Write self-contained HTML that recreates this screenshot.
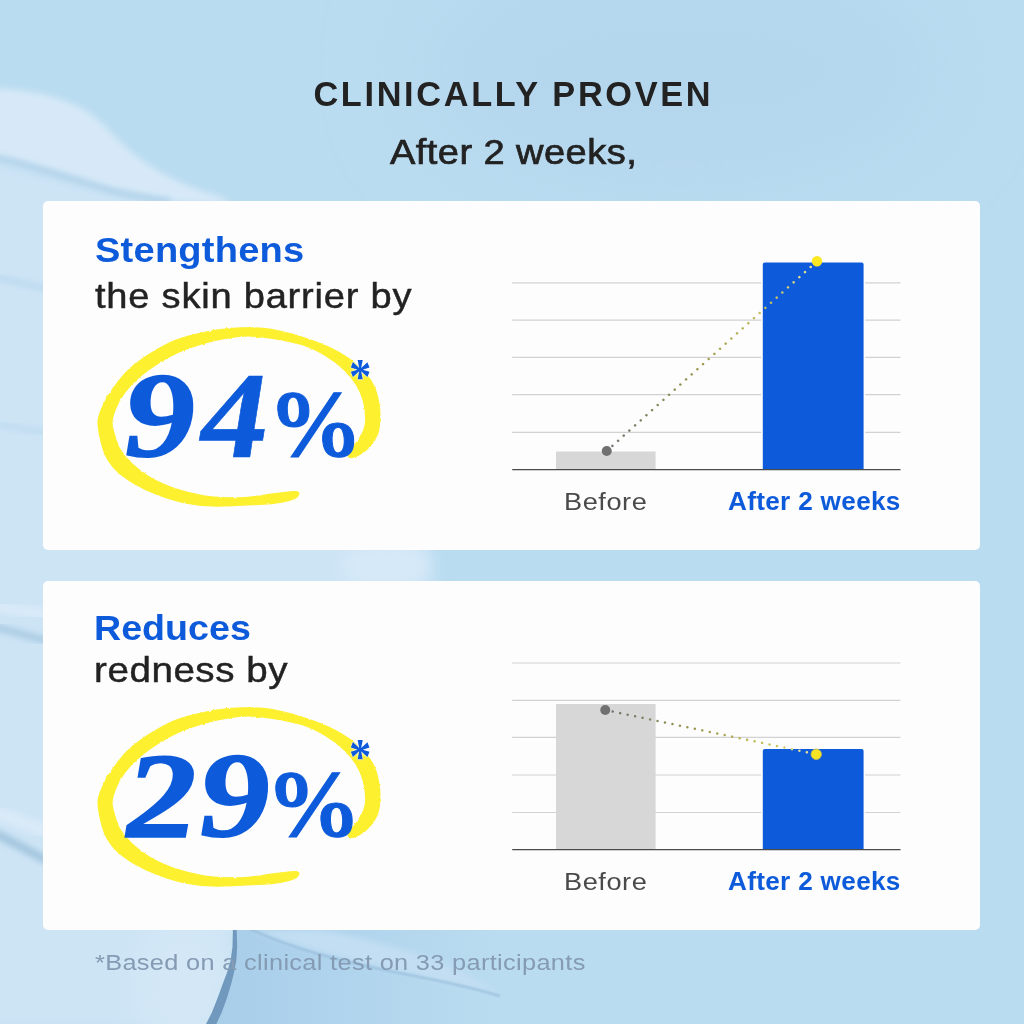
<!DOCTYPE html>
<html lang="en">
<head>
<meta charset="utf-8">
<title>Clinically Proven</title>
<style>
html,body{margin:0;padding:0;}
body{width:1024px;height:1024px;overflow:hidden;position:relative;background:#badcf0;font-family:"Liberation Sans",sans-serif;color:#222;}
.t{position:absolute;display:block;margin:0;white-space:nowrap;line-height:1;transform-origin:0 0;font-weight:normal;}
.g{position:absolute;left:0;top:0;width:0;height:0;}
.card{position:absolute;left:42.8px;width:937.3px;background:#fdfdfd;border-radius:5px;}
#card1{top:200.6px;height:349.2px;}
#card2{top:580.5px;height:349.5px;}
.blue{color:#0d5bdb;}
.t.b{font-weight:bold;}
.t.num{font-family:"Liberation Serif",serif;font-weight:bold;font-style:italic;color:#0d5bdb;}
svg{position:absolute;left:0;top:0;overflow:visible;}
</style>
</head>
<body>
<svg id="bg" width="1024" height="1024" viewBox="0 0 1024 1024">
  <defs>
    <filter id="b05" x="-20%" y="-20%" width="140%" height="140%"><feGaussianBlur stdDeviation="0.5"/></filter>
    <filter id="b1" x="-20%" y="-20%" width="140%" height="140%"><feGaussianBlur stdDeviation="1.2"/></filter>
    <filter id="b3" x="-20%" y="-20%" width="140%" height="140%"><feGaussianBlur stdDeviation="3"/></filter>
    <filter id="b8" x="-20%" y="-20%" width="140%" height="140%"><feGaussianBlur stdDeviation="8"/></filter>
    <filter id="b40" x="-50%" y="-80%" width="200%" height="260%"><feGaussianBlur stdDeviation="45"/></filter>
    <filter id="b16" x="-30%" y="-30%" width="160%" height="160%"><feGaussianBlur stdDeviation="16"/></filter>
    <linearGradient id="pool" gradientUnits="userSpaceOnUse" x1="225" y1="0" x2="500" y2="0"><stop offset="0" stop-color="#a9ceea"/><stop offset="0.5" stop-color="#b1d5ed"/><stop offset="1" stop-color="#badcf0"/></linearGradient>
    <linearGradient id="tg" gradientUnits="userSpaceOnUse" x1="60" y1="95" x2="20" y2="175"><stop offset="0" stop-color="#d5e8f7"/><stop offset="0.45" stop-color="#dcecf9"/><stop offset="1" stop-color="#cfe4f5"/></linearGradient>
    <clipPath id="cv"><rect width="1024" height="1024"/></clipPath>
    <clipPath id="cl"><path d="M-40 900 L233 900 L232.9 930.8 L232.5 946.8 L230.6 960.8 L226.9 973 L222.6 984.3 L217.5 998.3 L211.9 1012.4 L203 1030 L-40 1030Z"/></clipPath>
  </defs>
  <rect width="1024" height="1024" fill="#badcf0"/>
  <g clip-path="url(#cv)">
    <ellipse cx="680" cy="70" rx="260" ry="120" fill="#b5d7ee" filter="url(#b40)"/>
    <!-- large pale region on the left (mostly hidden behind the cards) -->
    <path d="M-40 150 C40 170 110 190 180 200 C300 260 410 420 430 560 C440 700 330 860 234 928 L233 947 L229 967 L222.6 984.3 L211.9 1012.4 L203 1030 L-40 1030Z" fill="#cde4f5" filter="url(#b8)"/>
    <ellipse cx="385" cy="566" rx="45" ry="22" fill="#d6e9f8" filter="url(#b8)"/>
    <!-- darker pool right of the fold at the bottom -->
    <path d="M234 925 L520 925 L520 1030 L208 1030 L217 1012 L227 984 L234 950Z" fill="url(#pool)"/>
    <!-- brighter bulge left of the fold -->
    <g clip-path="url(#cl)"><ellipse cx="185" cy="985" rx="55" ry="70" fill="#d3e7f6" filter="url(#b16)"/></g>
    <!-- pale wedge above the thin crease -->
    <path d="M252 930 C300 950 380 968 500 994 C450 960 380 940 320 930Z" fill="#c3def3" filter="url(#b3)"/>
    <!-- cream tongue top-left -->
    <path d="M-10 158 C30 164 75 180 113 191 C150 200 190 203 230 204 L222 197 C195 190 172 180 150 166 C125 150 110 130 92 115 C70 100 40 90 -10 88Z" fill="#d7e9f8" filter="url(#b3)"/>
    <path d="M-10 156 C30 164 75 180 113 191 C135 196 150 199 170 201" fill="none" stroke="#a9cde6" stroke-width="5" filter="url(#b3)"/>
    <!-- soft bands in the left margin -->
    <path d="M-5 277 L48 289" stroke="#b9d7ed" stroke-width="5" fill="none" filter="url(#b3)"/>
    <path d="M-5 424 L48 433" stroke="#bddaef" stroke-width="5" fill="none" filter="url(#b3)"/>
    <path d="M-5 606 L48 615" stroke="#d9eaf8" stroke-width="12" fill="none" filter="url(#b3)"/>
    <path d="M-5 627 L48 641" stroke="#a9cbe2" stroke-width="7" fill="none" filter="url(#b3)"/>
    <path d="M-5 812 L48 832" stroke="#d9eaf8" stroke-width="14" fill="none" filter="url(#b3)"/>
    <path d="M-5 833 L48 861" stroke="#9fc3dc" stroke-width="8" fill="none" filter="url(#b3)"/>
    <!-- fold edge at bottom -->
    <path d="M232.9 927 L232.9 930.8 L232.5 946.8 L230.6 960.8 L226.9 973 L222.6 984.3 L217.5 998.3 L211.9 1012.4 L203 1030 L213.5 1030 L221.7 1012.4 L226.9 998.3 L231.1 984.3 L233.9 973 L236.3 960.8 L237.2 946.8 L236.7 930.8 L236.7 927Z" fill="#7199bd" filter="url(#b05)"/>
    <!-- thin crease -->
    <path d="M250 929 C290 948 340 962 420 977 C450 983 480 990 500 996" fill="none" stroke="#8fb6d6" stroke-width="1.5" filter="url(#b1)"/>
  </g>
</svg>

<div class="card" id="card1"></div>
<div class="card" id="card2"></div>
<svg id="rings" width="1024" height="1024" viewBox="0 0 1024 1024">
  <defs><filter id="rough" x="-5%" y="-5%" width="110%" height="110%"><feTurbulence type="fractalNoise" baseFrequency="0.35" numOctaves="2" seed="7" result="n"/><feDisplacementMap in="SourceGraphic" in2="n" scale="2.2" xChannelSelector="R" yChannelSelector="G"/></filter></defs>
  <path id="ring1" d="M349.4 457.5C351.0 458.1 355.4 456.8 358.8 455.0C362.1 453.2 366.6 450.0 369.7 446.5C372.8 443.0 375.8 438.4 377.5 434.0C379.2 429.6 379.6 424.9 379.8 420.0C380.1 415.1 379.9 409.9 379.0 404.4C378.1 398.9 376.7 392.4 374.4 387.2C372.1 382.0 369.2 377.7 365.0 373.0C360.8 368.3 355.6 363.4 349.4 359.0C343.1 354.6 335.3 350.2 327.5 346.6C319.7 343.0 311.9 340.1 302.5 337.2C293.1 334.3 280.3 331.0 271.2 329.4C262.2 327.8 255.1 327.9 248.0 327.8C240.9 327.7 236.0 327.8 228.6 328.6C221.2 329.4 212.4 330.6 203.6 332.5C194.8 334.4 184.3 336.8 175.5 340.3C166.7 343.8 158.3 348.7 150.5 353.6C142.7 358.6 134.8 364.1 128.6 370.0C122.3 375.9 117.2 383.0 113.0 388.8C108.8 394.5 106.1 399.2 103.6 404.4C101.1 409.6 98.8 414.8 98.2 420.0C97.6 425.2 98.5 429.9 99.7 435.6C100.9 441.3 102.5 448.7 105.2 454.4C107.9 460.1 111.0 465.1 116.0 470.0C121.0 474.9 127.9 479.8 134.9 484.0C142.0 488.2 150.0 491.9 158.3 495.0C166.6 498.1 175.8 501.0 184.9 502.8C194.0 504.6 203.8 505.6 213.0 506.0C222.2 506.4 230.3 505.6 240.0 505.2C249.7 504.8 262.4 504.5 271.0 503.6C279.6 502.7 286.9 501.2 291.5 499.7C296.1 498.2 298.1 495.9 298.6 494.5C299.1 493.1 299.3 491.6 294.7 491.5C290.1 491.4 278.8 493.2 271.0 494.2C263.2 495.2 255.1 496.7 248.0 497.3C240.9 497.9 236.0 498.1 228.6 497.8C221.2 497.6 212.4 497.3 203.6 495.8C194.8 494.3 184.3 491.8 175.5 488.8C166.7 485.8 157.8 482.0 150.5 477.8C143.2 473.6 137.0 468.7 131.8 463.8C126.5 458.8 122.2 453.2 119.2 448.0C116.3 442.8 115.0 437.2 113.8 432.5C112.6 427.8 111.3 425.2 112.2 420.0C113.1 414.8 116.0 407.2 119.2 401.2C122.5 395.2 126.5 389.5 131.8 384.0C137.0 378.5 143.2 373.5 150.5 368.4C157.8 363.3 166.7 357.8 175.5 353.6C184.3 349.4 194.8 346.0 203.6 343.4C212.4 340.8 221.2 339.2 228.6 338.0C236.0 336.8 240.9 336.0 248.0 336.0C255.1 336.0 262.2 336.7 271.2 338.2C280.3 339.7 293.5 341.9 302.5 344.8C311.5 347.7 318.4 351.4 325.4 355.6C332.3 359.8 339.0 364.9 344.2 369.8C349.4 374.7 353.2 379.6 356.4 384.8C359.6 390.0 361.8 395.4 363.4 401.2C365.0 407.1 365.8 415.0 365.8 420.0C365.8 425.0 364.8 427.4 363.4 431.0C362.0 434.6 359.5 438.5 357.2 441.9C354.9 445.3 350.7 448.6 349.4 451.2C348.1 453.9 347.8 456.9 349.4 457.5" fill="#fdf02e" stroke="#fdf02e" stroke-width="1.2" stroke-linejoin="round" filter="url(#rough)"/>
  <g transform="translate(0 380)"><path id="ring2" d="M349.4 457.5C351.0 458.1 355.4 456.8 358.8 455.0C362.1 453.2 366.6 450.0 369.7 446.5C372.8 443.0 375.8 438.4 377.5 434.0C379.2 429.6 379.6 424.9 379.8 420.0C380.1 415.1 379.9 409.9 379.0 404.4C378.1 398.9 376.7 392.4 374.4 387.2C372.1 382.0 369.2 377.7 365.0 373.0C360.8 368.3 355.6 363.4 349.4 359.0C343.1 354.6 335.3 350.2 327.5 346.6C319.7 343.0 311.9 340.1 302.5 337.2C293.1 334.3 280.3 331.0 271.2 329.4C262.2 327.8 255.1 327.9 248.0 327.8C240.9 327.7 236.0 327.8 228.6 328.6C221.2 329.4 212.4 330.6 203.6 332.5C194.8 334.4 184.3 336.8 175.5 340.3C166.7 343.8 158.3 348.7 150.5 353.6C142.7 358.6 134.8 364.1 128.6 370.0C122.3 375.9 117.2 383.0 113.0 388.8C108.8 394.5 106.1 399.2 103.6 404.4C101.1 409.6 98.8 414.8 98.2 420.0C97.6 425.2 98.5 429.9 99.7 435.6C100.9 441.3 102.5 448.7 105.2 454.4C107.9 460.1 111.0 465.1 116.0 470.0C121.0 474.9 127.9 479.8 134.9 484.0C142.0 488.2 150.0 491.9 158.3 495.0C166.6 498.1 175.8 501.0 184.9 502.8C194.0 504.6 203.8 505.6 213.0 506.0C222.2 506.4 230.3 505.6 240.0 505.2C249.7 504.8 262.4 504.5 271.0 503.6C279.6 502.7 286.9 501.2 291.5 499.7C296.1 498.2 298.1 495.9 298.6 494.5C299.1 493.1 299.3 491.6 294.7 491.5C290.1 491.4 278.8 493.2 271.0 494.2C263.2 495.2 255.1 496.7 248.0 497.3C240.9 497.9 236.0 498.1 228.6 497.8C221.2 497.6 212.4 497.3 203.6 495.8C194.8 494.3 184.3 491.8 175.5 488.8C166.7 485.8 157.8 482.0 150.5 477.8C143.2 473.6 137.0 468.7 131.8 463.8C126.5 458.8 122.2 453.2 119.2 448.0C116.3 442.8 115.0 437.2 113.8 432.5C112.6 427.8 111.3 425.2 112.2 420.0C113.1 414.8 116.0 407.2 119.2 401.2C122.5 395.2 126.5 389.5 131.8 384.0C137.0 378.5 143.2 373.5 150.5 368.4C157.8 363.3 166.7 357.8 175.5 353.6C184.3 349.4 194.8 346.0 203.6 343.4C212.4 340.8 221.2 339.2 228.6 338.0C236.0 336.8 240.9 336.0 248.0 336.0C255.1 336.0 262.2 336.7 271.2 338.2C280.3 339.7 293.5 341.9 302.5 344.8C311.5 347.7 318.4 351.4 325.4 355.6C332.3 359.8 339.0 364.9 344.2 369.8C349.4 374.7 353.2 379.6 356.4 384.8C359.6 390.0 361.8 395.4 363.4 401.2C365.0 407.1 365.8 415.0 365.8 420.0C365.8 425.0 364.8 427.4 363.4 431.0C362.0 434.6 359.5 438.5 357.2 441.9C354.9 445.3 350.7 448.6 349.4 451.2C348.1 453.9 347.8 456.9 349.4 457.5" fill="#fdf02e" stroke="#fdf02e" stroke-width="1.2" stroke-linejoin="round" filter="url(#rough)"/></g>
</svg>
<svg id="charts" width="1024" height="1024" viewBox="0 0 1024 1024">
  <defs>
    <linearGradient id="dg1" gradientUnits="userSpaceOnUse" x1="606.75" y1="451" x2="817" y2="261.25">
      <stop offset="0" stop-color="#707070"/><stop offset="0.45" stop-color="#9c9b4c"/><stop offset="0.8" stop-color="#c9c45a"/><stop offset="1" stop-color="#f3ecb0"/>
    </linearGradient>
    <linearGradient id="dg2" gradientUnits="userSpaceOnUse" x1="605.25" y1="710" x2="816.25" y2="754.25">
      <stop offset="0" stop-color="#707070"/><stop offset="0.45" stop-color="#9c9b4c"/><stop offset="0.8" stop-color="#c9c45a"/><stop offset="1" stop-color="#f3ecb0"/>
    </linearGradient>
  </defs>
  <g stroke="#d2d2d2" stroke-width="1.2">
    <line x1="512.2" x2="900.5" y1="282.8" y2="282.8"/>
    <line x1="512.2" x2="900.5" y1="320.2" y2="320.2"/>
    <line x1="512.2" x2="900.5" y1="357.3" y2="357.3"/>
    <line x1="512.2" x2="900.5" y1="394.7" y2="394.7"/>
    <line x1="512.2" x2="900.5" y1="432.3" y2="432.3"/>
    <line x1="512.2" x2="900.5" y1="663" y2="663"/>
    <line x1="512.2" x2="900.5" y1="700.3" y2="700.3"/>
    <line x1="512.2" x2="900.5" y1="737.3" y2="737.3"/>
    <line x1="512.2" x2="900.5" y1="775" y2="775"/>
    <line x1="512.2" x2="900.5" y1="812.5" y2="812.5"/>
  </g>
  <rect x="556" y="451.5" width="99.6" height="18.5" fill="#d7d7d7"/>
  <rect x="761.2" y="261" width="104" height="208" fill="#fdfdfd"/>
  <rect x="761.2" y="747.5" width="104" height="101.5" fill="#fdfdfd"/>
  <path d="M762.8 470V264.5a2 2 0 0 1 2-2h96.8a2 2 0 0 1 2 2V470z" fill="#0d5bdb"/>
  <rect x="556" y="704" width="99.6" height="146" fill="#d7d7d7"/>
  <path d="M762.8 850V751a2 2 0 0 1 2-2h96.8a2 2 0 0 1 2 2V850z" fill="#0d5bdb"/>
  <line x1="512.2" x2="900.5" y1="469.6" y2="469.6" stroke="#4a4a4a" stroke-width="1.4"/>
  <line x1="512.2" x2="900.5" y1="849.6" y2="849.6" stroke="#4a4a4a" stroke-width="1.4"/>
  <line x1="606.75" y1="451" x2="817" y2="261.25" stroke="url(#dg1)" stroke-width="2.5" stroke-linecap="round" stroke-dasharray="0.01 7.62"/>
  <line x1="605.25" y1="710" x2="816.25" y2="754.25" stroke="url(#dg2)" stroke-width="2.5" stroke-linecap="round" stroke-dasharray="0.01 7.62"/>
  <circle cx="606.75" cy="451" r="5" fill="#707070"/>
  <circle cx="817" cy="261.25" r="5.2" fill="#fbe822"/>
  <circle cx="605.25" cy="710" r="5" fill="#707070"/>
  <circle cx="816.25" cy="754.25" r="5.2" fill="#f6e326" stroke="#c9c04a" stroke-width="0.8"/>
</svg>

<div class="t b" id="title" style="left:313.43px;top:76.8px;font-size:34.3px;letter-spacing:2.666px;">CLINICALLY PROVEN</div>
<div class="t" id="sub" style="left:389.98px;top:133.99px;font-size:35px;transform:scaleX(1.087);letter-spacing:0.4px;-webkit-text-stroke:0.7px #222;">After 2 weeks,</div>
<div class="t blue b" id="h1" style="left:94.85px;top:232.79px;font-size:34.8px;transform:scaleX(1.0937);letter-spacing:0.2px;">Stengthens</div>
<div class="t" id="s1" style="left:95.05px;top:279.05px;font-size:34.7px;transform:scaleX(1.0976);letter-spacing:0.7px;-webkit-text-stroke:0.45px #222;">the skin barrier by</div>
<div class="g"><span class="t num" id="n1a" style="left:121.18px;top:355.14px;font-size:121.56px;transform:scaleX(1.1801) skewX(2deg);-webkit-text-stroke:1.6px #0d5bdb;">9</span><span class="t num" id="n1b" style="left:198.0px;top:355.3px;font-size:122.93px;transform:scaleX(1.0991) skewX(2deg);-webkit-text-stroke:0.6px #0d5bdb;">4</span><span class="t num" id="p1" style="left:264.22px;top:377.0px;font-size:95.18px;transform:scaleX(1.0274) skewX(12deg);-webkit-text-stroke:1px #0d5bdb;">%</span></div>
<div class="t blue" id="a1" style="left:348.88px;top:351.26px;font-size:50.7px;transform:scaleX(0.8816);font-family:'Liberation Serif',serif;font-weight:bold;text-shadow:0 0 1.5px #fff,0 0 2px #fff;">*</div>
<div class="t" id="l1" style="left:564.27px;top:489.96px;font-size:24.7px;transform:scaleX(1.101);letter-spacing:0.5px;color:#4a4a4a;">Before</div>
<div class="t blue b" id="l2" style="left:728.01px;top:489.4px;font-size:25.0px;transform:scaleX(1.0462);letter-spacing:0.3px;">After 2 weeks</div>
<div class="t blue b" id="h2" style="left:94.18px;top:610.7px;font-size:34.8px;transform:scaleX(1.0812);">Reduces</div>
<div class="t" id="s2" style="left:94.0px;top:653.12px;font-size:34.7px;transform:scaleX(1.1113);letter-spacing:0.5px;-webkit-text-stroke:0.45px #222;">redness by</div>
<div class="g"><span class="t num" id="n2a" style="left:122.69px;top:734.76px;font-size:121.84px;transform:scaleX(1.1755) skewX(2deg);-webkit-text-stroke:1.6px #0d5bdb;">2</span><span class="t num" id="n2b" style="left:195.92px;top:735.4px;font-size:121.56px;transform:scaleX(1.1753) skewX(2deg);-webkit-text-stroke:1.6px #0d5bdb;">9</span><span class="t num" id="p2" style="left:261.98px;top:757.0px;font-size:95.18px;transform:scaleX(1.0342) skewX(12deg);-webkit-text-stroke:1px #0d5bdb;">%</span></div>
<div class="t blue" id="a2" style="left:348.88px;top:731.26px;font-size:50.7px;transform:scaleX(0.8816);font-family:'Liberation Serif',serif;font-weight:bold;text-shadow:0 0 1.5px #fff,0 0 2px #fff;">*</div>
<div class="t" id="l3" style="left:564.27px;top:869.96px;font-size:24.7px;transform:scaleX(1.101);letter-spacing:0.5px;color:#4a4a4a;">Before</div>
<div class="t blue b" id="l4" style="left:728.01px;top:869.4px;font-size:25.0px;transform:scaleX(1.0462);letter-spacing:0.3px;">After 2 weeks</div>
<div class="t" id="foot" style="left:95.33px;top:951.0px;font-size:22.7px;transform:scaleX(1.1164);letter-spacing:0.3px;color:#859bb3;">*Based on a clinical test on 33 participants</div>
</body>
</html>
